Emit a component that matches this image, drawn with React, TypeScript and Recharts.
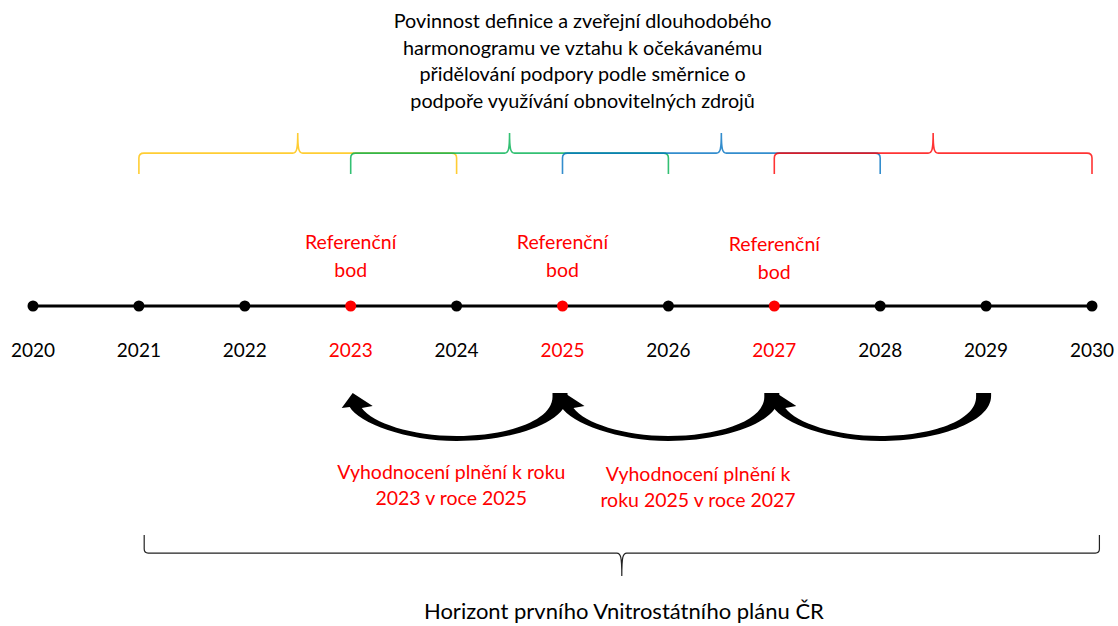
import { ComposedChart, Line, XAxis, YAxis, ReferenceArea, ReferenceDot } from 'recharts';

const years = [2020, 2021, 2022, 2023, 2024, 2025, 2026, 2027, 2028, 2029, 2030];
const referenceYears = [2023, 2025, 2027];

// curly braces above the timeline: each spans three years
const braceStarts = [2021, 2023, 2025, 2027];
const braceEnds = [2024, 2026, 2028, 2030];
const braceColors = ['#FFC000', '#00B050', '#0070C0', '#FF0000'];

// evaluation arrows, drawn from the later year back to the earlier one
const arrowFrom = [2025, 2027, 2029];
const arrowTo = [2023, 2025, 2027];

const titleLines = [
  'Povinnost definice a zveřejní dlouhodobého',
  'harmonogramu ve vztahu k očekávanému',
  'přidělování podpory podle směrnice o',
  'podpoře využívání obnovitelných zdrojů',
];
const refLabelLines = ['Referenční', 'bod'];
const evalLabels = [
  ['Vyhodnocení plnění k roku', '2023 v roce 2025'],
  ['Vyhodnocení plnění k', 'roku 2025 v roce 2027'],
];
const evalCenters = [2023.95, 2026.28];
const horizonSpan = [2021.05, 2030.07];
const horizonLabel = 'Horizont prvního Vnitrostátního plánu ČR';

// vertical layout levels (y axis runs top-down)
const LV = {
  title: 28,
  braceTop: 133,
  braceBottom: 174,
  refLabel: 249,
  timeline: 306,
  yearLabel: 357,
  arrowTop: 393,
  arrowBottom: 441,
  evalLabel: 479,
  horizonTop: 535,
  horizonBottom: 576,
  horizonLabel: 619,
};

const FONT = 'Lato, "Open Sans", sans-serif';
const RED = '#FF0000';

const data = years.map(year => ({ year, level: LV.timeline }));

function TimelineDot(props: any) {
  const { cx, cy, payload } = props;
  const isRef = referenceYears.includes(payload.year);
  return (
    <g key={`dot-${payload.year}`}>
      <circle cx={cx} cy={cy} r={5.5} fill={isRef ? RED : '#000'} />
      <text
        x={cx}
        y={LV.yearLabel}
        textAnchor="middle"
        fontFamily={FONT}
        fontSize={19}
        fill={isRef ? RED : '#000'}
      >
        {payload.year}
      </text>
    </g>
  );
}

function Brace(props: any, color: string) {
  const { x, y, width, height } = props;
  const x2 = x + width;
  const mid = x + width / 2;
  const base = y + height * 0.49;
  const bottom = y + height;
  const r = 5;
  const d = `M${x},${bottom} L${x},${base + r} Q${x},${base} ${x + r},${base} L${mid - 5},${base} C${mid - 1},${base} ${mid},${base - 4} ${mid},${y} C${mid},${base - 4} ${mid + 1},${base} ${mid + 5},${base} L${x2 - r},${base} Q${x2},${base} ${x2},${base + r} L${x2},${bottom}`;
  return <path d={d} fill="none" stroke={color} strokeWidth={1.6} strokeOpacity={0.8} />;
}

function HorizonBrace(props: any) {
  const { x, y, width, height } = props;
  const x2 = x + width;
  const mid = x + width / 2;
  const base = y + height * 0.44;
  const bottom = y + height;
  const r = 4;
  const d = `M${x},${y} L${x},${base - r} Q${x},${base} ${x + r},${base} L${mid - 5},${base} C${mid - 1},${base} ${mid},${base + 4} ${mid},${bottom} C${mid},${base + 4} ${mid + 1},${base} ${mid + 5},${base} L${x2 - r},${base} Q${x2},${base} ${x2},${base - r} L${x2},${y}`;
  return <path d={d} fill="none" stroke="#222" strokeWidth={1.2} />;
}

function CurvedArrow(props: any) {
  const { x, y, width, height } = props;
  const xl = x;
  const xr = x + width;
  const xm = x + width / 2;
  const y0 = y;
  const yb = y + height;
  const d = [
    `M${xr + 5},${y0}`,
    `L${xr + 5},${y0 + 3}`,
    `C${xr + 5},${y0 + 30} ${xm + 55},${yb} ${xm},${yb}`,
    `C${xm - 50},${yb} ${xl + 8},${y0 + 30} ${xl - 1},${y0 + 14}`,
    `L${xl - 9},${y0 + 15}`,
    `L${xl + 2},${y0}`,
    `L${xl + 22},${y0 + 13}`,
    `L${xl + 11},${y0 + 15}`,
    `C${xl + 22},${y0 + 30} ${xm - 45},${yb - 5} ${xm},${yb - 5}`,
    `C${xm + 50},${yb - 5} ${xr - 9},${y0 + 28} ${xr - 10},${y0 + 3}`,
    `L${xr - 10},${y0}`,
    'Z',
  ].join(' ');
  return <path d={d} fill="#000" stroke="none" />;
}

function TextBlock(lines: string[], size: number, lineH: number, color: string) {
  return (props: any) => {
    const { cx, cy } = props;
    return (
      <text x={cx} y={cy} textAnchor="middle" fontFamily={FONT} fontSize={size} fill={color}>
        {lines.map((l, i) => (
          <tspan key={i} x={cx} y={cy + i * lineH}>
            {l}
          </tspan>
        ))}
      </text>
    );
  };
}

export default function App() {
  return (
    <div style={{ position: 'absolute', left: 0, top: 0, background: '#fff' }}>
      <ComposedChart
        width={1118}
        height={626}
        data={data}
        margin={{ top: 0, right: 26, bottom: 0, left: 33 }}
      >
        <XAxis dataKey="year" type="number" domain={[2020, 2030]} hide />
        <YAxis type="number" domain={[0, 626]} reversed hide />

        {braceStarts.map((s, i) => (
          <ReferenceArea
            key={`brace-${i}`}
            x1={s}
            x2={braceEnds[i]}
            y1={LV.braceTop}
            y2={LV.braceBottom}
            ifOverflow="visible"
            shape={(p: any) => Brace(p, braceColors[i])}
          />
        ))}

        {arrowFrom.map((f, i) => (
          <ReferenceArea
            key={`arrow-${i}`}
            x1={arrowTo[i]}
            x2={f}
            y1={LV.arrowTop}
            y2={LV.arrowBottom}
            ifOverflow="visible"
            shape={CurvedArrow}
          />
        ))}

        <ReferenceArea
          x1={horizonSpan[0]}
          x2={horizonSpan[1]}
          y1={LV.horizonTop}
          y2={LV.horizonBottom}
          ifOverflow="visible"
          shape={HorizonBrace}
        />

        <ReferenceDot
          x={2025.19}
          y={LV.title}
          ifOverflow="visible"
          shape={TextBlock(titleLines, 19.8, 26.6, '#000')}
        />

        {referenceYears.map((yr, i) => (
          <ReferenceDot
            key={`ref-${yr}`}
            x={yr}
            y={LV.refLabel + (i === 2 ? 2 : 0)}
            ifOverflow="visible"
            shape={TextBlock(refLabelLines, 19.5, 28, RED)}
          />
        ))}

        {evalLabels.map((lines, i) => (
          <ReferenceDot
            key={`eval-${i}`}
            x={evalCenters[i]}
            y={LV.evalLabel + i * 2}
            ifOverflow="visible"
            shape={TextBlock(lines, 19.5, 26, RED)}
          />
        ))}

        <ReferenceDot
          x={2025.58}
          y={LV.horizonLabel}
          ifOverflow="visible"
          shape={TextBlock([horizonLabel], 22, 0, '#000')}
        />

        <Line
          dataKey="level"
          stroke="#000"
          strokeWidth={3}
          dot={TimelineDot}
          activeDot={false}
          isAnimationActive={false}
        />
      </ComposedChart>
    </div>
  );
}
